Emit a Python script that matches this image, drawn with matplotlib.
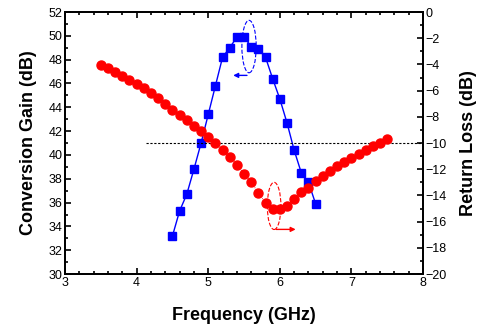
import matplotlib
matplotlib.use('Agg')
import matplotlib.pyplot as plt
import numpy as np
from matplotlib.patches import Ellipse
from matplotlib.ticker import MultipleLocator

plt.rcParams['font.family'] = ['Liberation Sans', 'DejaVu Sans']

# conversion gain (left axis)
freq_gain = [4.5, 4.6, 4.7, 4.8, 4.9, 5.0, 5.1, 5.2, 5.3, 5.4, 5.5,
             5.6, 5.7, 5.8, 5.9, 6.0, 6.1, 6.2, 6.3, 6.4, 6.5]
gain = [33.2, 35.3, 36.7, 38.8, 41.0, 43.4, 45.8, 48.2, 49.0, 49.9, 49.9,
        49.1, 48.9, 48.2, 46.4, 44.7, 42.7, 40.4, 38.5, 37.7, 35.9]

# return loss (right axis)
freq_rl = [3.5, 3.6, 3.7, 3.8, 3.9, 4.0, 4.1, 4.2, 4.3, 4.4, 4.5,
           4.6, 4.7, 4.8, 4.9, 5.0, 5.1, 5.2, 5.3, 5.4, 5.5,
           5.6, 5.7, 5.8, 5.9, 6.0, 6.1, 6.2, 6.3, 6.4, 6.5,
           6.6, 6.7, 6.8, 6.9, 7.0, 7.1, 7.2, 7.3, 7.4, 7.5]
return_loss = [-4.02, -4.30, -4.58, -4.89, -5.19, -5.50, -5.83, -6.18, -6.54, -7.05, -7.51,
               -7.89, -8.27, -8.68, -9.08, -9.52, -10.03, -10.51, -11.07, -11.65, -12.34,
               -13.00, -13.79, -14.56, -15.06, -15.06, -14.81, -14.27, -13.77, -13.41, -12.93,
               -12.52, -12.11, -11.76, -11.42, -11.15, -10.81, -10.51, -10.20, -9.98, -9.67]

fig = plt.figure(figsize=(4.82, 3.31), dpi=100)
ax = fig.add_axes([0.135, 0.172, 0.7426, 0.7917])
ax2 = ax.twinx()

ax.plot(freq_gain, gain, color='blue', lw=1, marker='s', ms=5.5,
        mec='blue', mfc='blue', zorder=3)
ax2.plot(freq_rl, return_loss, color='red', lw=0.6, ls=':', marker='o', ms=6.5,
         mec='red', mfc='red', zorder=3)
ax2.hlines(-10, 4.13, 8, colors='black', linestyles=(0, (2, 1.5)), lw=0.8)

# annotation ellipses and arrows
ax.add_patch(Ellipse((5.57, 49.1), 0.2, 4.4, fill=False, ec='blue', ls='--', lw=0.8))
ax.annotate('', xy=(5.31, 46.68), xytext=(5.58, 46.68),
            arrowprops=dict(arrowstyle='-|>', color='blue', lw=1, mutation_scale=7))
ax2.add_patch(Ellipse((5.92, -14.8), 0.19, 3.6, fill=False, ec='red', ls='--', lw=0.8))
ax2.annotate('', xy=(6.26, -16.59), xytext=(5.91, -16.59),
             arrowprops=dict(arrowstyle='-|>', color='red', lw=1, mutation_scale=7))

ax.set_xlim(3, 8)
ax.set_ylim(30, 52)
ax2.set_ylim(-20, 0)
ax.xaxis.set_major_locator(MultipleLocator(1))
ax.xaxis.set_minor_locator(MultipleLocator(0.2))
ax.yaxis.set_major_locator(MultipleLocator(2))
ax.yaxis.set_minor_locator(MultipleLocator(1))
ax2.yaxis.set_major_locator(MultipleLocator(2))
ax2.yaxis.set_minor_locator(MultipleLocator(1))

ax.tick_params(which='both', direction='in', top=True, labelsize=9, width=1.2, pad=2)
ax.tick_params(which='major', length=4.5)
ax.tick_params(which='minor', length=2.5)
ax.tick_params(axis='y', right=False)
ax2.tick_params(which='both', direction='in', labelsize=9, width=1.2, pad=2)
ax2.tick_params(which='major', length=4.5)
ax2.tick_params(which='minor', length=2.5)

for a in (ax, ax2):
    for s in a.spines.values():
        s.set_linewidth(1.3)

ax.set_xlabel('Frequency (GHz)', fontsize=13, fontweight='bold', labelpad=13)
ax.set_ylabel('Conversion Gain (dB)', fontsize=13, fontweight='bold', labelpad=8)
ax2.set_ylabel('Return Loss (dB)', fontsize=13, fontweight='bold', labelpad=9)

fig.savefig('out.png', dpi=100)
